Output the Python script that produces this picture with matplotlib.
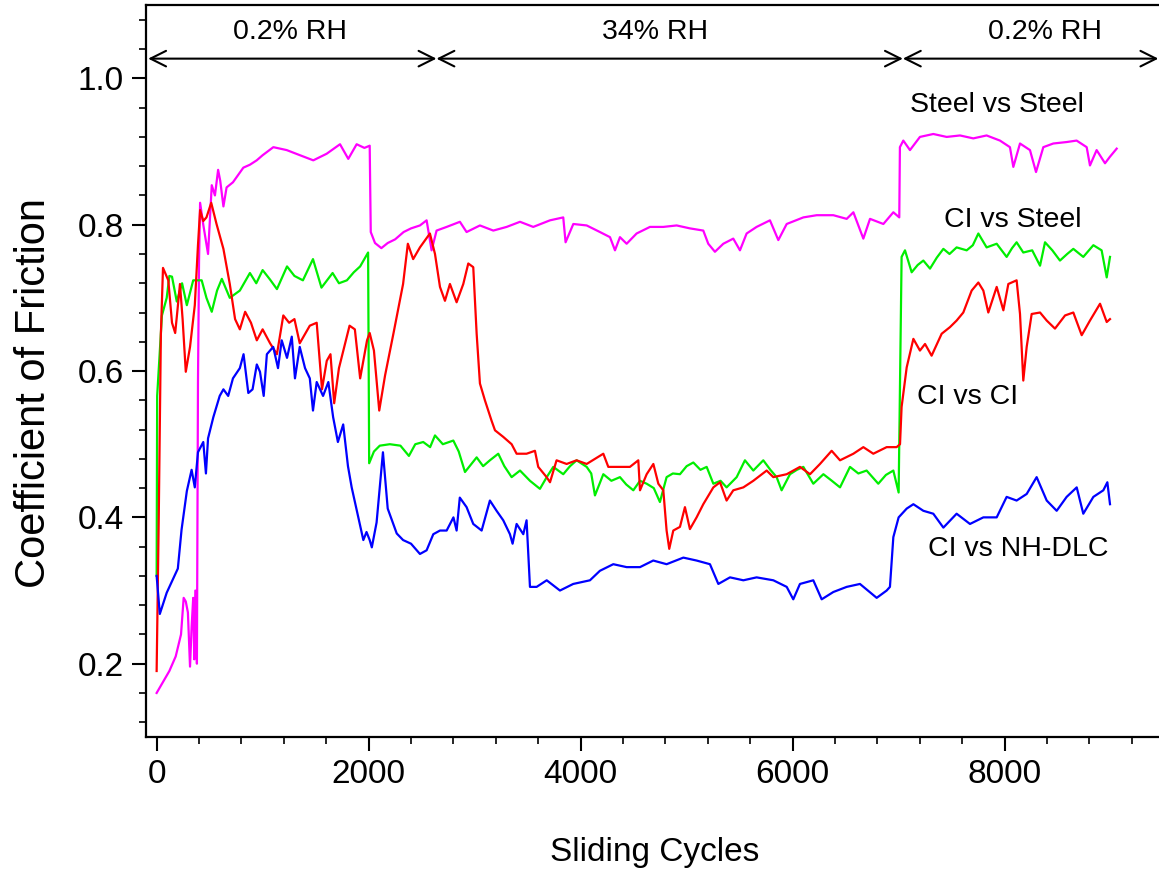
import matplotlib
matplotlib.use("Agg")
import matplotlib.pyplot as plt
from matplotlib.ticker import MultipleLocator

plt.rcParams["font.family"] = ["Liberation Sans", "DejaVu Sans"]

# Steel vs Steel (magenta)
steel_x = [0, 60, 120, 180, 230, 255, 275, 295, 315, 330, 345, 355, 365, 380, 390, 400, 410, 440,
           485, 520, 550, 580, 600, 630, 660, 720, 818, 880, 944, 1000, 1101, 1227, 1352, 1478,
           1604, 1730, 1808, 1887, 1960, 2010, 2020, 2060, 2120, 2180, 2250, 2330, 2400, 2484,
           2547, 2594, 2641, 2736, 2861, 2924, 3050, 3176, 3302, 3428, 3553, 3711, 3836, 3858,
           3931, 4057, 4182, 4277, 4324, 4371, 4434, 4528, 4654, 4780, 4906, 5031, 5157, 5204,
           5267, 5346, 5440, 5503, 5566, 5660, 5786, 5865, 5944, 6101, 6227, 6384, 6510, 6573,
           6667, 6730, 6856, 6950, 7006, 7012, 7044, 7107, 7201, 7327, 7453, 7579, 7704, 7830,
           7956, 8050, 8082, 8145, 8239, 8296, 8365, 8459, 8585, 8679, 8774, 8805, 8868, 8947,
           8994, 9057]
steel_y = [0.16, 0.175, 0.19, 0.21, 0.24, 0.29, 0.285, 0.27, 0.196, 0.25, 0.29, 0.206, 0.30, 0.20,
           0.585, 0.75, 0.83, 0.80, 0.76, 0.854, 0.84, 0.875, 0.86, 0.825, 0.851, 0.858, 0.878,
           0.882, 0.888, 0.895, 0.906, 0.902, 0.895, 0.888, 0.897, 0.91, 0.89, 0.91, 0.905, 0.908,
           0.79, 0.775, 0.768, 0.775, 0.78, 0.79, 0.795, 0.799, 0.806, 0.765, 0.792, 0.797, 0.804,
           0.79, 0.799, 0.792, 0.797, 0.804, 0.797, 0.806, 0.81, 0.776, 0.801, 0.799, 0.79, 0.783,
           0.765, 0.783, 0.774, 0.788, 0.797, 0.797, 0.799, 0.795, 0.792, 0.774, 0.763, 0.774,
           0.781, 0.765, 0.788, 0.797, 0.806, 0.779, 0.801, 0.81, 0.813, 0.813, 0.808, 0.817,
           0.781, 0.808, 0.801, 0.817, 0.81, 0.906, 0.915, 0.902, 0.92, 0.924, 0.92, 0.922, 0.918,
           0.922, 0.915, 0.906, 0.879, 0.911, 0.902, 0.872, 0.906, 0.911, 0.913, 0.915, 0.906,
           0.881, 0.902, 0.884, 0.893, 0.904]

# CI vs Steel (green)
cis_x = [0, 5, 50, 95, 120, 145, 190, 240, 285, 345, 425, 470, 520, 570, 615, 690, 785, 880, 940,
         1000, 1070, 1135, 1230, 1300, 1380, 1475, 1555, 1660, 1720, 1795, 1860, 1920, 1995, 2005,
         2050, 2105, 2200, 2300, 2380, 2440, 2515, 2580, 2626, 2700, 2799, 2850, 2909, 3019, 3080,
         3144, 3223, 3280, 3349, 3428, 3522, 3616, 3680, 3742, 3836, 3900, 3962, 4057, 4100, 4135,
         4214, 4290, 4371, 4430, 4497, 4560, 4623, 4690, 4748, 4811, 4870, 4937, 5000, 5063, 5130,
         5189, 5252, 5320, 5377, 5472, 5550, 5629, 5723, 5790, 5849, 5896, 5975, 6040, 6101, 6195,
         6290, 6370, 6447, 6541, 6620, 6698, 6808, 6880, 6950, 7000, 7028, 7060, 7123, 7180, 7233,
         7296, 7360, 7422, 7480, 7547, 7642, 7700, 7752, 7830, 7925, 8019, 8070, 8113, 8176, 8260,
         8334, 8381, 8450, 8522, 8590, 8648, 8742, 8837, 8915, 8963, 8994]
cis_y = [0.32, 0.566, 0.676, 0.70, 0.73, 0.729, 0.695, 0.72, 0.69, 0.724, 0.724, 0.70, 0.681, 0.71,
         0.726, 0.70, 0.71, 0.734, 0.72, 0.738, 0.725, 0.712, 0.743, 0.73, 0.724, 0.753, 0.714,
         0.734, 0.72, 0.724, 0.735, 0.743, 0.762, 0.474, 0.49, 0.498, 0.50, 0.498, 0.484, 0.50,
         0.503, 0.496, 0.512, 0.50, 0.505, 0.49, 0.462, 0.482, 0.47, 0.478, 0.487, 0.47, 0.455,
         0.464, 0.45, 0.439, 0.455, 0.469, 0.459, 0.47, 0.478, 0.469, 0.46, 0.43, 0.459, 0.45,
         0.455, 0.445, 0.437, 0.45, 0.446, 0.44, 0.421, 0.455, 0.46, 0.459, 0.47, 0.475, 0.465,
         0.469, 0.446, 0.45, 0.441, 0.455, 0.478, 0.464, 0.478, 0.465, 0.455, 0.437, 0.459, 0.465,
         0.469, 0.446, 0.459, 0.45, 0.441, 0.469, 0.46, 0.464, 0.446, 0.458, 0.464, 0.434, 0.756,
         0.765, 0.735, 0.745, 0.751, 0.74, 0.755, 0.767, 0.76, 0.769, 0.765, 0.772, 0.788, 0.769,
         0.774, 0.756, 0.768, 0.776, 0.762, 0.765, 0.744, 0.776, 0.765, 0.751, 0.76, 0.767, 0.756,
         0.772, 0.765, 0.728, 0.756]

# CI vs CI (red)
cici_x = [0, 20, 40, 60, 110, 145, 175, 195, 220, 245, 275, 315, 360, 390, 410, 440, 470, 515, 565,
          630, 690, 740, 785, 835, 890, 945, 1000, 1070, 1135, 1195, 1250, 1300, 1350, 1445, 1510,
          1560, 1605, 1640, 1675, 1720, 1820, 1870, 1920, 1985, 2010, 2050, 2100, 2155, 2235, 2325,
          2370, 2420, 2484, 2578, 2626, 2673, 2720, 2767, 2830, 2893, 2940, 2987, 3019, 3050, 3097,
          3160, 3192, 3270, 3349, 3396, 3490, 3569, 3600, 3679, 3711, 3773, 3868, 3962, 4057, 4214,
          4261, 4371, 4465, 4544, 4560, 4623, 4686, 4733, 4780, 4811, 4836, 4874, 4937, 4984, 5031,
          5094, 5157, 5252, 5315, 5377, 5440, 5535, 5629, 5755, 5818, 5944, 6069, 6164, 6258, 6368,
          6447, 6573, 6667, 6761, 6887, 6981, 7013, 7028, 7076, 7139, 7201, 7249, 7311, 7406, 7484,
          7547, 7610, 7689, 7752, 7799, 7846, 7925, 7988, 8035, 8113, 8145, 8176, 8208, 8255, 8334,
          8397, 8475, 8570, 8648, 8727, 8805, 8900, 8963, 8994]
cici_y = [0.19, 0.40, 0.65, 0.741, 0.724, 0.666, 0.652, 0.681, 0.719, 0.671, 0.599, 0.633, 0.69,
          0.772, 0.82, 0.805, 0.81, 0.83, 0.801, 0.767, 0.719, 0.671, 0.657, 0.681, 0.666, 0.642,
          0.657, 0.638, 0.623, 0.676, 0.666, 0.671, 0.638, 0.662, 0.666, 0.575, 0.614, 0.623,
          0.556, 0.604, 0.662, 0.657, 0.59, 0.642, 0.652, 0.628, 0.546, 0.594, 0.652, 0.719, 0.774,
          0.753, 0.769, 0.788, 0.76, 0.715, 0.696, 0.719, 0.694, 0.719, 0.747, 0.742, 0.651, 0.583,
          0.56, 0.532, 0.519, 0.51, 0.50, 0.487, 0.487, 0.491, 0.469, 0.455, 0.448, 0.478, 0.473,
          0.478, 0.473, 0.487, 0.469, 0.469, 0.469, 0.478, 0.437, 0.459, 0.473, 0.446, 0.437,
          0.382, 0.357, 0.382, 0.387, 0.414, 0.384, 0.40, 0.418, 0.441, 0.448, 0.423, 0.437,
          0.441, 0.45, 0.464, 0.455, 0.459, 0.469, 0.459, 0.473, 0.491, 0.478, 0.487, 0.496,
          0.487, 0.496, 0.496, 0.50, 0.551, 0.605, 0.644, 0.628, 0.637, 0.621, 0.651, 0.66, 0.669,
          0.68, 0.71, 0.721, 0.71, 0.68, 0.715, 0.683, 0.719, 0.724, 0.678, 0.587, 0.633, 0.678,
          0.68, 0.669, 0.658, 0.676, 0.68, 0.649, 0.669, 0.692, 0.667, 0.671]

# CI vs NH-DLC (blue)
dlc_x = [0, 30, 95, 155, 200, 235, 285, 330, 360, 390, 440, 465, 485, 535, 595, 630, 675, 720, 785,
         820, 865, 905, 945, 975, 1010, 1040, 1100, 1145, 1180, 1230, 1275, 1305, 1350, 1400, 1445,
         1475, 1510, 1570, 1620, 1665, 1710, 1760, 1805, 1840, 1900, 1950, 1980, 2010, 2030, 2075,
         2135, 2180, 2265, 2325, 2400, 2484, 2547, 2610, 2673, 2736, 2800, 2830, 2860, 2924, 2987,
         3066, 3144, 3207, 3270, 3333, 3358, 3396, 3459, 3490, 3522, 3585, 3680, 3805, 3930, 4088,
         4182, 4308, 4434, 4560, 4685, 4811, 4969, 5094, 5220, 5299, 5409, 5535, 5660, 5818, 5944,
         6006, 6069, 6195, 6274, 6384, 6510, 6635, 6793, 6887, 6918, 6950, 7000, 7076, 7139, 7233,
         7327, 7422, 7547, 7673, 7799, 7925, 8019, 8113, 8208, 8302, 8397, 8491, 8585, 8680, 8742,
         8837, 8931, 8969, 8994]
dlc_y = [0.32, 0.268, 0.297, 0.316, 0.33, 0.383, 0.436, 0.465, 0.441, 0.489, 0.503, 0.46, 0.508,
         0.537, 0.566, 0.575, 0.566, 0.59, 0.604, 0.623, 0.57, 0.575, 0.609, 0.599, 0.566, 0.623,
         0.633, 0.604, 0.642, 0.618, 0.647, 0.59, 0.633, 0.604, 0.59, 0.546, 0.585, 0.566, 0.585,
         0.537, 0.503, 0.527, 0.47, 0.441, 0.402, 0.369, 0.38, 0.369, 0.359, 0.393, 0.489, 0.412,
         0.378, 0.369, 0.364, 0.35, 0.355, 0.377, 0.382, 0.382, 0.40, 0.382, 0.427, 0.414, 0.391,
         0.382, 0.423, 0.409, 0.396, 0.377, 0.364, 0.391, 0.377, 0.396, 0.305, 0.305, 0.314, 0.30,
         0.309, 0.314, 0.327, 0.336, 0.332, 0.332, 0.341, 0.336, 0.345, 0.341, 0.336, 0.309,
         0.318, 0.314, 0.318, 0.314, 0.305, 0.288, 0.309, 0.314, 0.288, 0.298, 0.305, 0.309, 0.29,
         0.30, 0.305, 0.373, 0.40, 0.412, 0.418, 0.409, 0.405, 0.386, 0.405, 0.391, 0.40, 0.40,
         0.428, 0.423, 0.432, 0.455, 0.423, 0.409, 0.428, 0.441, 0.405, 0.428, 0.437, 0.448, 0.418]

# humidity stages: label, start, end (cycles)
stage_labels = ["0.2% RH", "34% RH", "0.2% RH"]
stage_start = [-80, 2640, 7040]
stage_end = [2640, 7040, 9450]

fig = plt.figure(figsize=(11.59, 8.71), dpi=100)
ax = fig.add_axes([0.126, 0.154, 0.878, 0.840])

ax.plot(steel_x, steel_y, color="#ff00ff", lw=1.6)
ax.plot(cis_x, cis_y, color="#00ee00", lw=1.6)
ax.plot(cici_x, cici_y, color="#ff0000", lw=1.6)
ax.plot(dlc_x, dlc_y, color="#0000ff", lw=1.6)

ax.set_xlim(-100, 9500)
ax.set_ylim(0.1, 1.1)
ax.xaxis.set_major_locator(MultipleLocator(2000))
ax.xaxis.set_minor_locator(MultipleLocator(400))
ax.yaxis.set_major_locator(MultipleLocator(0.2))
ax.yaxis.set_minor_locator(MultipleLocator(0.04))
ax.set_yticks([0.2, 0.4, 0.6, 0.8, 1.0])
ax.tick_params(which="major", length=10, width=1.5, labelsize=24, pad=6)
ax.tick_params(which="minor", length=5, width=1.2)
ax.spines["right"].set_visible(False)
for s in ["top", "left", "bottom"]:
    ax.spines[s].set_linewidth(1.6)

ax.set_xlabel("Sliding Cycles", fontsize=24, labelpad=34)
ax.set_ylabel("Coefficient of Friction", fontsize=30)
ax.yaxis.set_label_coords(-0.090, 0.47)

# humidity arrows
for lab, a, b in zip(stage_labels, stage_start, stage_end):
    ax.annotate("", xy=(a, 1.027), xytext=(b, 1.027),
                arrowprops=dict(arrowstyle="<->", color="black", lw=1.5,
                                mutation_scale=28, shrinkA=0, shrinkB=0))
ax.text(1255, 1.063, stage_labels[0], fontsize=20.5, ha="center", va="center")
ax.text(4700, 1.063, stage_labels[1], fontsize=20.5, ha="center", va="center")
ax.text(8380, 1.063, stage_labels[2], fontsize=20.5, ha="center", va="center")

ax.text(7925, 0.963, "Steel vs Steel", fontsize=20.5, ha="center", va="center")
ax.text(8075, 0.806, "CI vs Steel", fontsize=20.5, ha="center", va="center")
ax.text(7650, 0.564, "CI vs CI", fontsize=20.5, ha="center", va="center")
ax.text(8130, 0.357, "CI vs NH-DLC", fontsize=20.5, ha="center", va="center")

fig.savefig("out.png", dpi=100)
